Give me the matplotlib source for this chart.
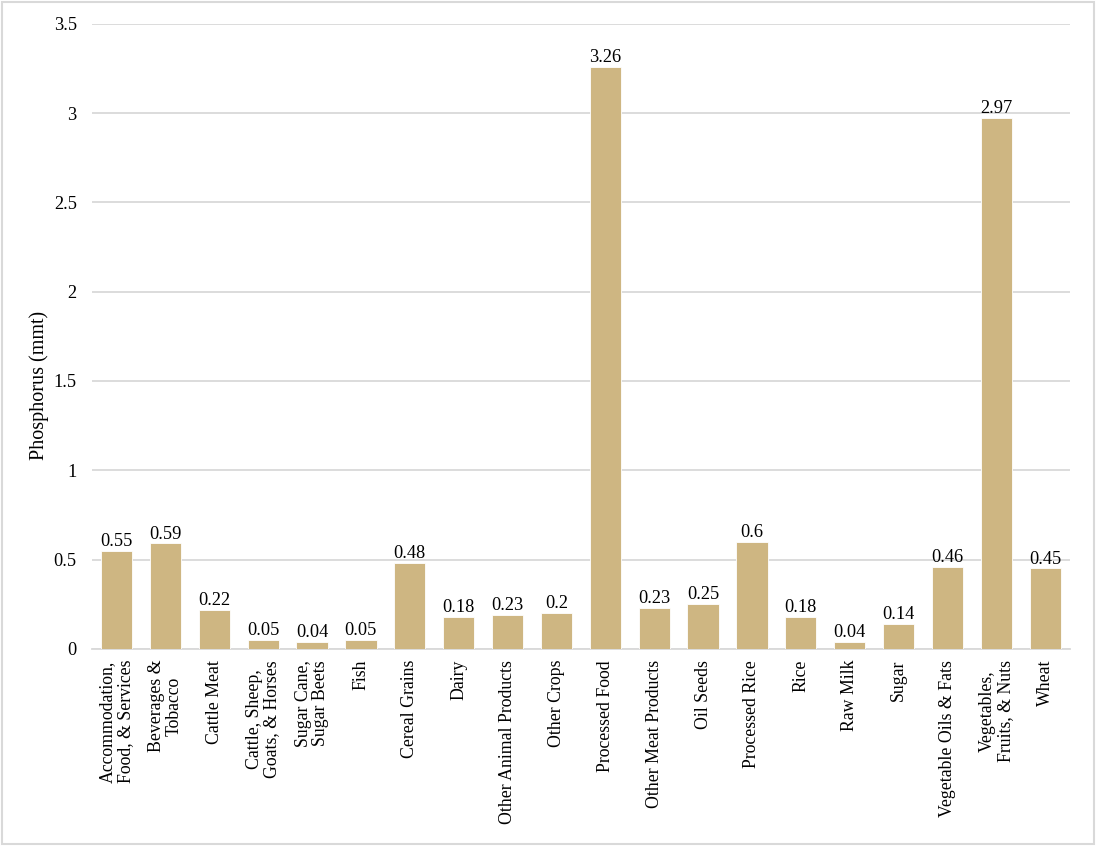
import matplotlib
matplotlib.use("Agg")
import matplotlib.pyplot as plt
from matplotlib.patches import Rectangle

categories = [
    "Accommodation,\nFood, & Services", "Beverages &\nTobacco", "Cattle Meat",
    "Cattle, Sheep,\nGoats, & Horses", "Sugar Cane,\nSugar Beets", "Fish",
    "Cereal Grains", "Dairy", "Other Animal Products", "Other Crops",
    "Processed Food", "Other Meat Products", "Oil Seeds", "Processed Rice",
    "Rice", "Raw Milk", "Sugar", "Vegetable Oils & Fats",
    "Vegetables,\nFruits, & Nuts", "Wheat",
]
# bar heights as drawn, and the data labels as printed on the chart
heights = [0.55, 0.59, 0.22, 0.05, 0.04, 0.05, 0.48, 0.18, 0.19, 0.20,
           3.26, 0.23, 0.25, 0.60, 0.18, 0.04, 0.14, 0.46, 2.97, 0.45]
labels = ["0.55", "0.59", "0.22", "0.05", "0.04", "0.05", "0.48", "0.18", "0.23", "0.2",
          "3.26", "0.23", "0.25", "0.6", "0.18", "0.04", "0.14", "0.46", "2.97", "0.45"]
yticks = [0, 0.5, 1, 1.5, 2, 2.5, 3, 3.5]
ytick_labels = ["0", "0.5", "1", "1.5", "2", "2.5", "3", "3.5"]

plt.rcParams["font.family"] = ["Liberation Serif", "DejaVu Serif"]
BAR = "#CEB682"
GRID = "#D9D9D9"

fig = plt.figure(figsize=(10.96, 8.46), dpi=100)
ax = fig.add_axes([0.084, 0.233, 0.892, 0.739])

x = list(range(len(categories)))
ax.bar(x, heights, width=0.64, color=BAR, edgecolor="white", linewidth=0.6, zorder=3)
for xi, h, lab in zip(x, heights, labels):
    ax.text(xi, h + 0.005, lab, ha="center", va="bottom", fontsize=13.2, zorder=4)

ax.set_xlim(-0.5, len(categories) - 0.5)
ax.set_ylim(0, 3.5)
ax.set_yticks(yticks)
ax.set_yticklabels(ytick_labels, fontsize=13.2)
ax.set_xticks(x)
ax.set_xticklabels(categories, rotation=90, fontsize=12.8, va="top", ha="center",
                   multialignment="center", linespacing=1.05)
ax.tick_params(axis="both", length=0)
ax.tick_params(axis="y", pad=11)
ax.tick_params(axis="x", pad=8)
ax.grid(axis="y", color=GRID, linewidth=1.3, zorder=0)
ax.set_axisbelow(True)
for s in ["top", "right", "left"]:
    ax.spines[s].set_visible(False)
ax.spines["bottom"].set_color(GRID)
ax.spines["bottom"].set_linewidth(1.3)
ax.set_ylabel("Phosphorus (mmt)", fontsize=14.5)
ax.yaxis.set_label_coords(-0.044, 0.422)

fig.patches.append(Rectangle((0.002, 0.002), 0.996, 0.996, transform=fig.transFigure,
                             fill=False, edgecolor="#D9D9D9", linewidth=1.5))

fig.savefig("out.png", dpi=100)
